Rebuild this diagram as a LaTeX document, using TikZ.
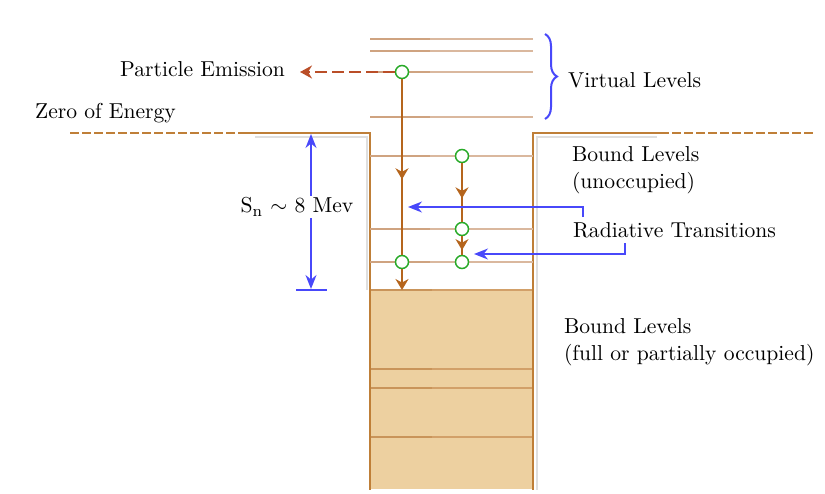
\documentclass[tikz,border=0pt]{standalone}
\usetikzlibrary{arrows.meta,decorations.pathreplacing,decorations.markings}

\definecolor{wallbrown}{RGB}{191,127,56}
\definecolor{levelbrown}{RGB}{218,184,158}
\definecolor{leveldark}{RGB}{207,163,128}
\definecolor{filltan}{RGB}{237,208,160}
\definecolor{bandline}{RGB}{210,160,105}
\definecolor{banddark}{RGB}{201,148,90}
\definecolor{decaybrown}{RGB}{181,101,29}
\definecolor{emitred}{RGB}{186,78,40}
\definecolor{dotgreen}{RGB}{40,170,40}
\definecolor{arrowblue}{RGB}{72,72,250}

\tikzset{
  wall/.style={wallbrown, line width=1pt},
  zeroline/.style={wallbrown, line width=1pt, dash pattern=on 4.5pt off 1.5pt},
  level/.style={levelbrown, line width=1.2pt},
  state/.style={circle, draw=dotgreen, fill=white, line width=0.75pt, inner sep=0pt, minimum size=6.5pt},
  decay/.style={decaybrown, line width=1pt},
  midtip/.style={postaction={decorate}, decoration={markings,
      mark=at position #1 with {\arrow{Stealth[length=5.5pt,width=6.5pt]}}}},
  pointer/.style={arrowblue, line width=0.8pt, -{Stealth[length=7pt,width=5.5pt]}},
  note/.style={align=left}
}

\begin{document}
\begin{tikzpicture}[x=0.5pt, y=-0.5pt, font=\fontsize{10.8}{13.5}\selectfont]
            \useasboundingbox (0,0) rectangle (825,493);

            % Shadows
            \draw[gray!25, line width=0.8pt] (255,137) -- (367,137) -- (367,290);
            \draw[gray!25, line width=0.8pt] (657,137) -- (537,137) -- (537,490);

            % Occupied band
            \fill[filltan] (370,290) rectangle (533,489);
            \foreach \y in {290,369,388,437} {
                \draw[bandline, line width=1pt] (370,\y) -- (533,\y);
                \draw[banddark, line width=1pt] (370,\y) -- (432,\y);
            }

            % Well and zero of energy
            \draw[wall] (245,133) -- (370,133) -- (370,490);
            \draw[wall] (660,133) -- (533,133) -- (533,490);
            \draw[zeroline] (70,133) -- (245,133);
            \draw[zeroline] (660,133) -- (815,133);

            % Levels
            \foreach \y in {39,51,72,117,156,229,262} {
                \draw[level] (370,\y) -- (533,\y);
                \draw[level, leveldark] (370,\y) -- (430,\y);
            }

            % States
            \node[state] (v3) at (402,72) {};
            \node[state] (b3) at (402,262) {};
            \node[state] (u1) at (462,156) {};
            \node[state] (u2) at (462,229) {};
            \node[state] (u3) at (462,262) {};
            \coordinate (floor) at (402,290);

            % Transitions
            \draw[decay, midtip=0.57] (v3) -- (b3);
            \draw[decay, -{Stealth[length=5.5pt,width=6.5pt]}] (b3) -- (floor);
            \draw[decay, midtip=0.6] (u1) -- (u2);
            \draw[decay, midtip=0.75] (u2) -- (u3);

            % Particle emission
            \node[anchor=east] (emit) at (292,69) {Particle Emission};
            \coordinate (out) at (300,72);
            \draw[emitred, line width=1pt, dash pattern=on 6pt off 2.5pt,
                  -{Stealth[length=6pt,width=6.5pt]}] (v3) -- (out);

            % Virtual levels
            \draw[arrowblue, line width=1pt, decorate,
                  decoration={brace, amplitude=6pt}] (545,34) -- (545,119);
            \node[anchor=west] (virt) at (561,80) {Virtual Levels};

            % Labels
            \node[anchor=west] (zero) at (28,113) {Zero of Energy};
            \node[note, anchor=west] (unocc) at (565,170) {Bound Levels\\(unoccupied)};
            \node[anchor=west] (rad) at (566,230) {Radiative Transitions};
            \node[note, anchor=west] (occ) at (557,342) {Bound Levels\\(full or partially occupied)};

            % Radiative pointers
            \coordinate (r1) at (583,217);
            \coordinate (t1) at (408,207);
            \coordinate (r2) at (625,243);
            \coordinate (t2) at (474,254);
            \draw[pointer] (r1) |- (t1);
            \draw[pointer] (r2) |- (t2);

            % Separation energy
            \coordinate (sntop) at (311,134);
            \coordinate (snbot) at (311,289);
            \draw[arrowblue, line width=0.8pt,
                  {Stealth[length=7pt,width=5.5pt]}-{Stealth[length=7pt,width=5.5pt]}] (sntop) -- (snbot);
            \draw[arrowblue, line width=1pt] (296,290) -- (327,290);
            \node[fill=white, inner sep=1pt] (sn) at (297,207) {S$_{\mathrm{n}}$ $\sim$ 8 Mev};
        \end{tikzpicture}
\end{document}
